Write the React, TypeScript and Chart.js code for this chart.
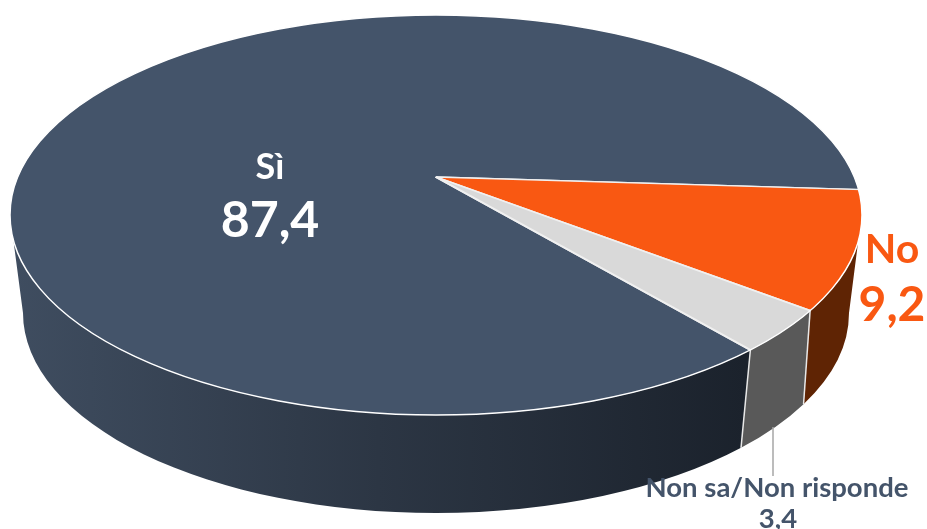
import React, { useEffect, useRef } from "react";
import { Chart, registerables } from "chart.js";

Chart.register(...registerables);

const categories = ["Sì", "No", "Non sa/Non risponde"];
const values = [87.4, 9.2, 3.4];
const sliceColors = ["#44546A", "#F95812", "#D9D9D9"];
const wallColors = ["#1B222C", "#5F2404", "#595959"];

const FONT = "Lato, 'Open Sans', sans-serif";
const fmt = (v: number) => v.toFixed(1).replace(".", ",");

const APEX = { x: 436, y: 177 };
const TILT = 0.48;
const GROW = 2;
const TOP = { cx: 436, cy: 215, rx: 426, ry: 200 };
const BOT = { cx: 436, cy: 313, rx: 413, ry: 200 };
const T_RIGHT = (7.8 * Math.PI) / 180;
const T_LEFT = (172.8 * Math.PI) / 180;

function rayToParam(theta: number) {
  const dx = Math.cos(theta);
  const dy = TILT * Math.sin(theta);
  const ox = APEX.x - TOP.cx;
  const oy = APEX.y - TOP.cy;
  const a = (dx * dx) / (TOP.rx * TOP.rx) + (dy * dy) / (TOP.ry * TOP.ry);
  const b = 2 * ((ox * dx) / (TOP.rx * TOP.rx) + (oy * dy) / (TOP.ry * TOP.ry));
  const c = (ox * ox) / (TOP.rx * TOP.rx) + (oy * oy) / (TOP.ry * TOP.ry) - 1;
  const s = (-b + Math.sqrt(b * b - 4 * a * c)) / (2 * a);
  const x = APEX.x + s * dx;
  const y = APEX.y + s * dy;
  return Math.atan2((y - TOP.cy) / TOP.ry, (x - TOP.cx) / TOP.rx);
}

// the lower rim is seen with slight perspective: seams lean a little towards the front
const lowerParam = (t: number) => t - Math.max(0, (0.025 * (0.75 - t)) / 0.25);

const threeD = {
  id: "threeD",
  beforeDatasetsDraw(chart: any) {
    const ctx = chart.ctx as CanvasRenderingContext2D;
    const arcs = chart.getDatasetMeta(0).data;
    const TAU = Math.PI * 2;
    arcs.forEach((arc: any, i: number) => {
      let ta = rayToParam(arc.startAngle);
      let tb = rayToParam(arc.endAngle);
      if (ta < 0) ta += TAU;
      if (tb < ta) tb += TAU;
      for (const shift of [0, TAU]) {
        const lo = Math.max(ta, T_RIGHT + shift);
        const hi = Math.min(tb, T_LEFT + shift);
        if (hi <= lo) continue;
        const bLo = lo === T_RIGHT + shift ? shift : lowerParam(lo - shift) + shift;
        const bHi = hi === T_LEFT + shift ? Math.PI + shift : lowerParam(hi - shift) + shift;
        ctx.beginPath();
        ctx.ellipse(TOP.cx, TOP.cy, TOP.rx, TOP.ry, 0, lo, hi);
        ctx.ellipse(BOT.cx, BOT.cy, BOT.rx, BOT.ry, 0, bHi, bLo, true);
        ctx.closePath();
        if (i === 0) {
          const g = ctx.createLinearGradient(12, 0, 745, 0);
          g.addColorStop(0, "#3F4D60");
          g.addColorStop(0.5, "#2C3644");
          g.addColorStop(1, wallColors[0]);
          ctx.fillStyle = g;
        } else {
          ctx.fillStyle = wallColors[i];
        }
        ctx.fill();
      }
    });
    // white seams between wall pieces
    ctx.strokeStyle = "#E8E8E8";
    ctx.lineWidth = 1.5;
    arcs.slice(1).forEach((arc: any) => {
      let t = rayToParam(arc.endAngle);
      if (t < 0) t += TAU;
      const u = lowerParam(t);
      ctx.beginPath();
      ctx.moveTo(TOP.cx + TOP.rx * Math.cos(t), TOP.cy + TOP.ry * Math.sin(t));
      ctx.lineTo(BOT.cx + BOT.rx * Math.cos(u), BOT.cy + BOT.ry * Math.sin(u));
      ctx.stroke();
    });
    // clip to the top face, and flatten the pie onto it
    ctx.save();
    ctx.beginPath();
    ctx.ellipse(TOP.cx, TOP.cy, TOP.rx, TOP.ry, 0, 0, TAU);
    ctx.clip();
    const a0 = arcs[0];
    ctx.translate(APEX.x, APEX.y);
    ctx.scale(GROW, GROW * TILT);
    ctx.translate(-a0.x, -a0.y);
  },
  afterDatasetsDraw(chart: any) {
    const ctx = chart.ctx as CanvasRenderingContext2D;
    ctx.restore();
    ctx.strokeStyle = "#FFFFFF";
    ctx.lineWidth = 1.5;
    ctx.beginPath();
    ctx.ellipse(TOP.cx, TOP.cy, TOP.rx, TOP.ry, 0, 0, Math.PI * 2);
    ctx.stroke();

    // leader line
    ctx.strokeStyle = "#A6A6A6";
    ctx.lineWidth = 1.5;
    ctx.beginPath();
    ctx.moveTo(773, 427);
    ctx.lineTo(773, 476);
    ctx.stroke();

    ctx.textAlign = "center";
    ctx.textBaseline = "alphabetic";
    const put = (s: string, x: number, y: number, size: number, color: string) => {
      ctx.font = `bold ${size}px ${FONT}`;
      ctx.fillStyle = color;
      ctx.fillText(s, x, y);
    };
    put(categories[0], 270, 179, 36, "#FFFFFF");
    put(fmt(values[0]), 270, 237, 50, "#FFFFFF");
    put(categories[1], 892, 263, 41, "#F95812");
    put(fmt(values[1]), 892, 321, 48, "#F95812");
    put(categories[2], 777, 497, 27.5, "#44546A");
    put(fmt(values[2]), 778, 528, 27.5, "#44546A");
  },
};

export default function App() {
  const ref = useRef<HTMLCanvasElement>(null);
  useEffect(() => {
    const chart = new Chart(ref.current!, {
      type: "pie",
      data: {
        labels: categories,
        datasets: [
          {
            data: values,
            backgroundColor: sliceColors,
            borderColor: "#F0F0F0",
            borderWidth: 1.5,
            clip: false,
          } as any,
        ],
      },
      options: {
        responsive: false,
        animation: false,
        rotation: 138.9,
        layout: { padding: 0 },
        plugins: { legend: { display: false }, tooltip: { enabled: false } },
      },
      plugins: [threeD],
    } as any);
    return () => chart.destroy();
  }, []);
  return (
    <canvas
      ref={ref}
      width={927}
      height={529}
      style={{ position: "absolute", left: 0, top: 0, display: "block", width: 927, height: 529 }}
    />
  );
}
